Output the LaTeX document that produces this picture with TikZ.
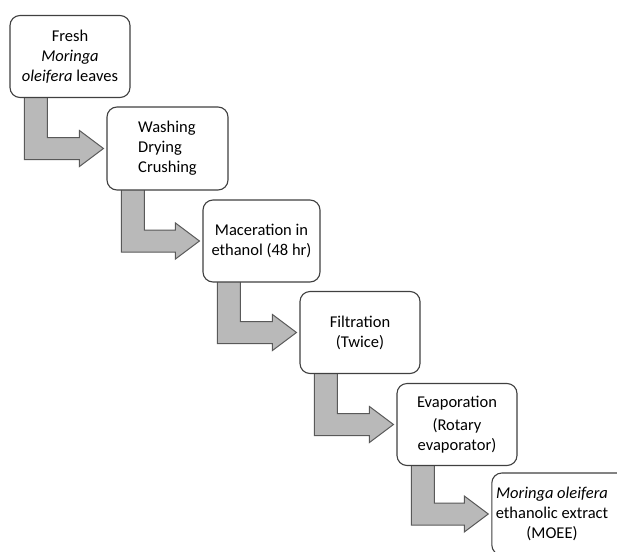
\documentclass[tikz,border=0pt]{standalone}
\usepackage{fontspec}
\setmainfont{Carlito}
\usetikzlibrary{calc,backgrounds}
\tikzset{
  stepbox/.style={draw=black!75,line width=1.1pt,fill=white,rounded corners=10pt,
    minimum width=120pt,minimum height=82pt,align=center,inner sep=4pt,
    font=\fontsize{16.5}{20}\selectfont},
  larrow/.style={draw=black!65,line width=1pt,fill=gray!55,line join=miter}
}
% L-shaped block arrow from the bottom of #1 to the left side of #2
\newcommand{\stepArrow}[2]{%
  \draw[larrow] let \p1=(#1.south west), \p2=(#2.west) in
    (\x1+15pt,\y1+6pt) -- (\x1+38pt,\y1+6pt) -- (\x1+38pt,\y2+11pt)
    -- (\x2-27pt,\y2+11pt) -- (\x2-27pt,\y2+18pt) -- (\x2-3pt,\y2)
    -- (\x2-27pt,\y2-18pt) -- (\x2-27pt,\y2-11pt) -- (\x1+15pt,\y2-11pt) -- cycle;}
\begin{document}
\begin{tikzpicture}[x=1pt,y=-1pt]
    \useasboundingbox (0,0) rectangle (617,551);
    \clip (0,0) rectangle (617,551);
    \node[stepbox] (b1) at (70,56.5) {Fresh\\\textit{Moringa}\\\textit{oleifera} leaves};
    \node[stepbox,align=left,minimum width=121pt,minimum height=83pt] (b2) at (167.5,148.5) {Washing\\Drying\\Crushing};
    \node[stepbox,minimum width=117pt] (b3) at (261.5,241) {Maceration in\\ethanol (48 hr)};
    \node[stepbox] (b4) at (360,332.5) {Filtration\\(Twice)};
    \node[stepbox] (b5) at (457,424.5) {Evaporation\\[3pt](Rotary\\evaporator)};
    \node[stepbox,minimum width=140pt] (b6) at (564,514) {\begin{tabular}{@{}c@{\hspace{24pt}}}\textit{Moringa oleifera}\\ethanolic extract\\(MOEE)\end{tabular}};
    \begin{pgfonlayer}{background}
        \foreach \a/\b in {b1/b2,b2/b3,b3/b4,b4/b5,b5/b6}
            \stepArrow{\a}{\b}; %arrows
    \end{pgfonlayer}
\end{tikzpicture}
\end{document}
